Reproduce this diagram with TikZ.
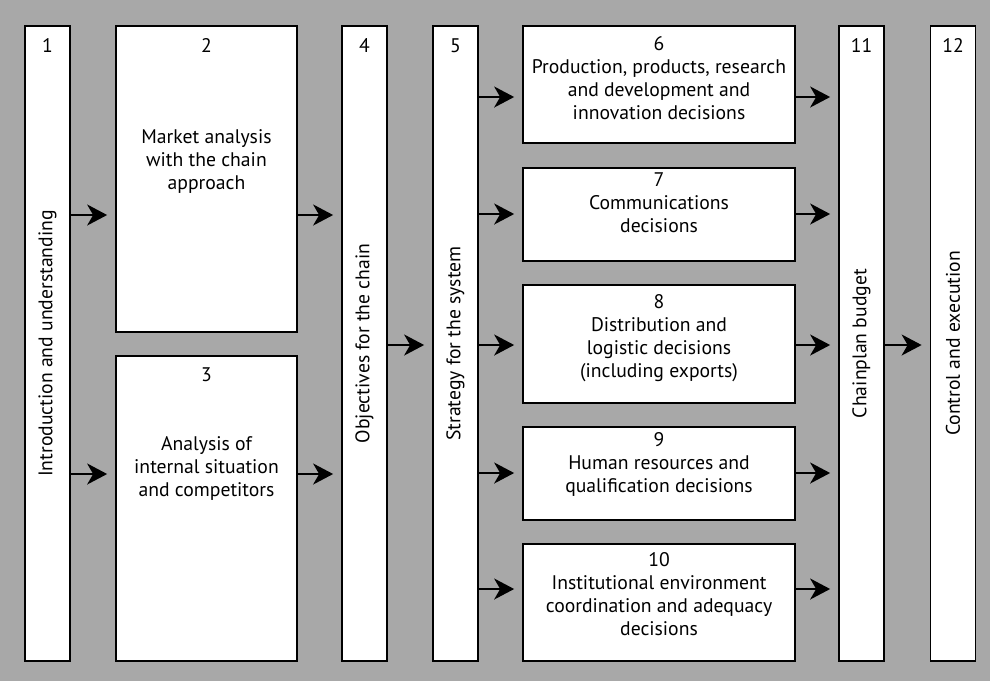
\documentclass[tikz,border=0pt]{standalone}
\usepackage{fontspec}
\setmainfont{PT Sans}
\usetikzlibrary{arrows.meta,positioning}
\definecolor{bggray}{gray}{0.66}
\tikzstyle{tall} = [draw=black,fill=white,line width=1pt,rectangle,minimum width=0.9cm,minimum height=12.7cm,inner sep=0pt]
\tikzstyle{half} = [draw=black,fill=white,line width=1pt,rectangle,minimum width=3.62cm,inner sep=0pt]
\tikzstyle{wide} = [draw=black,fill=white,line width=1pt,rectangle,minimum width=5.44cm,inner sep=0pt]
\tikzstyle{txt} = [align=center,text centered,inner sep=0pt,font=\fontsize{11.2pt}{13.1pt}\selectfont]
\tikzstyle{vtxt} = [txt,rotate=90]
\tikzstyle{arr} = [-{Stealth[length=0.4cm,width=0.42cm,inset=0.12cm]},line width=1.2pt,shorten >=0.16cm]

\begin{document}
\begin{tikzpicture}[x=0.02cm,y=-0.02cm]
	\fill[bggray] (0,0) rectangle (990,681);
	\useasboundingbox (0,0) rectangle (990,681);
	% boxes
	\node (b1) [tall] at (47.5,343.5) {};
	\node (b2) [half,minimum height=6.12cm] at (206.5,179) {};
	\node (b3) [half,minimum height=6.1cm] at (206.5,508.5) {};
	\node (b4) [tall] at (364.5,343.5) {};
	\node (b5) [tall] at (455.5,343.5) {};
	\node (b6) [wide,minimum height=2.34cm] at (659,84.5) {};
	\node (b7) [wide,minimum height=1.86cm] at (659,214.5) {};
	\node (b8) [wide,minimum height=2.36cm] at (659,344) {};
	\node (b9) [wide,minimum height=1.86cm] at (659,473.5) {};
	\node (b10) [wide,minimum height=2.34cm] at (659,602.5) {};
	\node (b11) [tall] at (861.5,343.5) {};
	\node (b12) [tall] at (953,343.5) {};
	% numbers and texts
	\node (n1) [txt,below=0.26cm of b1.north] {1};
	\node (n2) [txt,below=0.26cm of b2.north] {2};
	\node (n3) [txt,below=0.24cm of b3.north] {3};
	\node (n4) [txt,below=0.26cm of b4.north] {4};
	\node (n5) [txt,below=0.26cm of b5.north] {5};
	\node (n11) [txt,below=0.26cm of b11.north] {11};
	\node (n12) [txt,below=0.26cm of b12.north] {12};
	\node (t1) [vtxt] at (b1) {Introduction and understanding};
	\node (t4) [vtxt] at (b4) {Objectives for the chain};
	\node (t5) [vtxt] at (b5) {Strategy for the system};
	\node (t11) [vtxt] at (b11) {Chainplan budget};
	\node (t12) [vtxt] at (b12) {Control and execution};
	\node (t2) [txt,below=2.08cm of b2.north] {Market analysis\\with the chain\\approach};
	\node (t3) [txt,below=1.62cm of b3.north] {Analysis of\\internal situation\\and competitors};
	\node (t6) [txt,below=0.22cm of b6.north] {6\\Production, products, research\\and development and\\innovation decisions};
	\node (t7) [txt,below=0.1cm of b7.north] {7\\Communications\\decisions};
	\node (t8) [txt,below=0.2cm of b8.north] {8\\Distribution and\\logistic decisions\\(including exports)};
	\node (t9) [txt,below=0.12cm of b9.north] {9\\Human resources and\\qualification decisions};
	\node (t10) [txt,below=0.18cm of b10.north] {10\\Institutional environment\\coordination and adequacy\\decisions};
	% arrow rows
	\coordinate (ra) at (0,215);
	\coordinate (rb) at (0,474);
	\coordinate (rm) at (0,345);
	\coordinate (r6) at (0,97);
	\coordinate (r7) at (0,214);
	\coordinate (r9) at (0,473);
	\coordinate (r10) at (0,589);
	\draw [arr] (b1.east |- ra) -- (b2.west |- ra);
	\draw [arr] (b1.east |- rb) -- (b3.west |- rb);
	\draw [arr] (b2.east |- ra) -- (b4.west |- ra);
	\draw [arr] (b3.east |- rb) -- (b4.west |- rb);
	\draw [arr] (b4.east |- rm) -- (b5.west |- rm);
	\foreach \b/\r in {6/r6,7/r7,8/rm,9/r9,10/r10} {
		\draw [arr] (b5.east |- \r) -- (b\b.west |- \r);
		\draw [arr] (b\b.east |- \r) -- (b11.west |- \r);
	}
	\draw [arr] (b11.east |- rm) -- (b12.west |- rm);
\end{tikzpicture}
\end{document}
